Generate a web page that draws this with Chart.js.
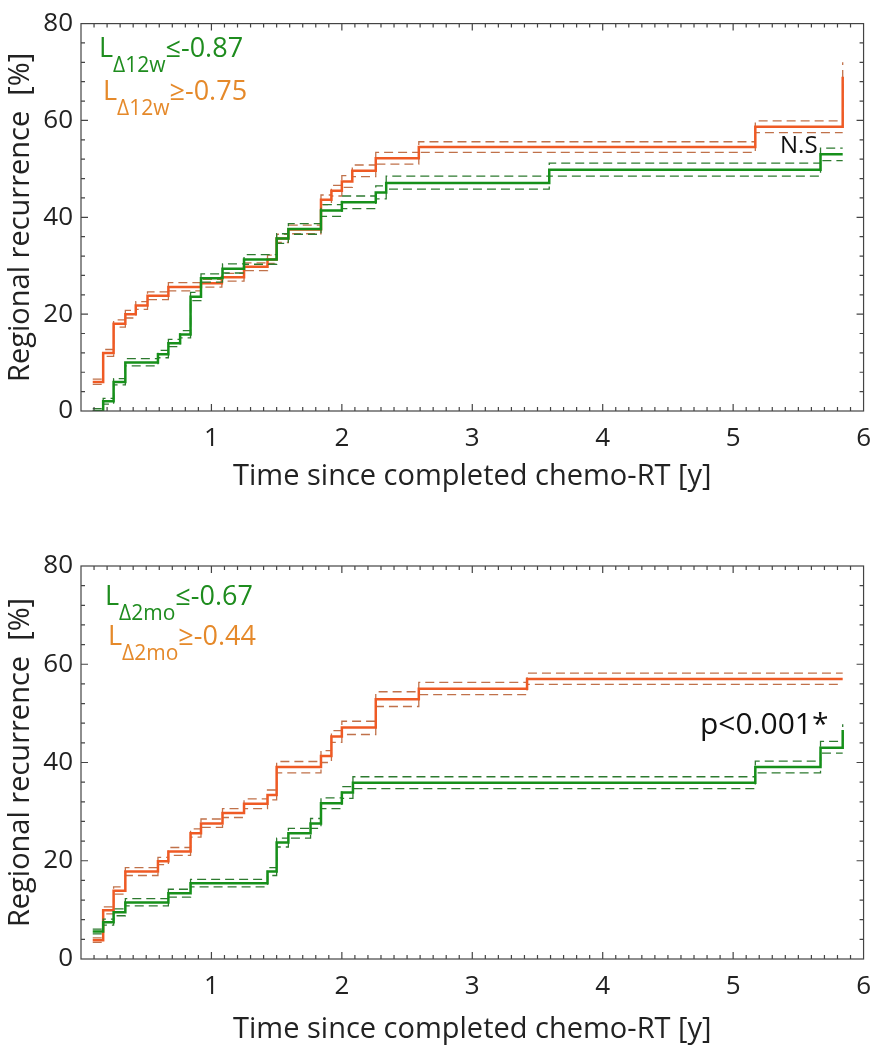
<!DOCTYPE html>
<html>
<head>
<meta charset="utf-8">
<script src="https://cdn.jsdelivr.net/npm/chart.js@4"></script>
<style>
  body { margin: 0; background: #fff; }
  .wrap { position: absolute; left: 0; width: 883px; }
  #w1 { top: 0; height: 520px; }
  #w2 { top: 520px; height: 530px; }
</style>
</head>
<body>
<div class="wrap" id="w1"><canvas id="c1" width="883" height="520"></canvas></div>
<div class="wrap" id="w2"><canvas id="c2" width="883" height="530"></canvas></div>
<script>
// tick labels
var xTickVals = [1, 2, 3, 4, 5, 6];
var yTickVals = [0, 20, 40, 60, 80];

// TOP: L delta 12w, orange group (>= -0.75)
var w12OrangeT  = [0.09, 0.17, 0.25, 0.34, 0.42, 0.51, 0.67, 0.92, 1.08, 1.25, 1.43, 1.50, 1.59, 1.84, 1.92, 2.00, 2.08, 2.26, 2.59, 5.17, 5.84];
var w12OrangeV  = [6, 12, 18, 20, 21.8, 23.8, 25.6, 26.4, 27.6, 29.8, 31.3, 35.6, 37.5, 43.6, 45.5, 47.4, 49.6, 52.2, 54.5, 58.7, 69];
var w12OrangeUp = [6.6, 12.7, 18.8, 20.8, 22.6, 24.6, 26.5, 27.2, 28.4, 30.6, 32.2, 36.5, 38.4, 44.6, 46.6, 48.6, 50.8, 53.4, 55.6, 59.9, 72];
var w12OrangeLo = [5.5, 11.3, 17.3, 19.2, 21.0, 23.0, 24.8, 25.6, 26.8, 29.0, 30.5, 34.8, 36.6, 42.6, 44.4, 46.2, 48.4, 51.0, 53.4, 57.5, 57.5];

// TOP: green group (<= -0.87)
var w12GreenT  = [0.09, 0.17, 0.25, 0.34, 0.59, 0.67, 0.76, 0.84, 0.92, 1.085, 1.25, 1.50, 1.59, 1.84, 2.00, 2.26, 2.34, 3.59, 5.67, 5.84];
var w12GreenV  = [0, 2, 6, 10, 11.7, 14.0, 15.8, 23.6, 27.4, 29.4, 31.3, 35.6, 37.6, 41.4, 43.1, 45.1, 47.1, 49.8, 53.0, 53.0];
var w12GreenUp = [0.5, 2.6, 6.7, 10.8, 12.5, 14.8, 16.6, 24.5, 28.3, 30.4, 32.3, 36.6, 38.7, 42.6, 44.4, 46.5, 48.5, 51.2, 54.3, 54.3];
var w12GreenLo = [0, 1.4, 5.4, 9.3, 11.0, 13.3, 15.1, 22.8, 26.6, 28.5, 30.3, 34.6, 36.5, 40.2, 41.8, 43.8, 45.8, 48.5, 51.7, 51.7];

// BOTTOM: L delta 2mo, orange group (>= -0.44)
var mo2OrangeT  = [0.09, 0.17, 0.25, 0.34, 0.59, 0.67, 0.84, 0.92, 1.085, 1.25, 1.43, 1.50, 1.84, 1.92, 2.00, 2.26, 2.59, 3.42, 5.84];
var mo2OrangeV  = [3.8, 9.9, 13.9, 17.8, 19.9, 21.9, 25.6, 27.6, 29.7, 31.6, 33.4, 39.1, 41.3, 45.3, 47.1, 52.9, 55.0, 57.0, 57.0];
var mo2OrangeUp = [4.3, 10.6, 14.7, 18.6, 20.7, 22.7, 26.5, 28.5, 30.6, 32.6, 34.4, 40.2, 42.4, 46.5, 48.4, 54.4, 56.3, 58.2, 58.2];
var mo2OrangeLo = [3.4, 9.2, 13.2, 17.0, 19.2, 21.1, 24.8, 26.8, 28.8, 30.6, 32.4, 37.9, 40.0, 44.1, 45.7, 51.4, 53.8, 55.9, 55.9];

// BOTTOM: green group (<= -0.67)
var mo2GreenT  = [0.09, 0.17, 0.25, 0.34, 0.67, 0.84, 1.43, 1.50, 1.59, 1.76, 1.84, 2.00, 2.085, 5.17, 5.67, 5.84];
var mo2GreenV  = [5.6, 7.5, 9.5, 11.5, 13.4, 15.4, 17.8, 23.7, 25.6, 27.6, 31.7, 33.9, 35.9, 39.1, 43.0, 46.6];
var mo2GreenUp = [6.1, 8.1, 10.2, 12.3, 14.2, 16.2, 18.6, 24.6, 26.6, 28.6, 32.8, 35.1, 37.1, 40.3, 44.3, 47.8];
var mo2GreenLo = [5.1, 6.9, 8.8, 10.8, 12.6, 14.7, 17.0, 22.8, 24.6, 26.6, 30.6, 32.7, 34.7, 37.9, 41.9, 41.9];

var FONT = "'Open Sans', sans-serif";
var ORANGE = '#ef5a24', ORANGE_DASH = '#c0714a', ORANGE_TXT = '#e5892a';
var GREEN = '#16901a', GREEN_DASH = '#2d7a2f', GREEN_TXT = '#1e8c1e';

function pts(t, v) {
  return t.map(function(x, i) { return {x: x, y: v[i]}; });
}

function solid(t, v, color, order) {
  return { data: pts(t, v), borderColor: color, borderWidth: 2.5, stepped: true,
           pointRadius: 0, fill: false, order: order };
}
function dashed(t, v, color, order) {
  return { data: pts(t, v), borderColor: color, borderWidth: 1.3, borderDash: [9, 5],
           stepped: true, pointRadius: 0, fill: false, order: order };
}

// box + inward minor ticks on all four sides
var frameTicks = {
  id: 'frameTicks',
  afterDatasetsDraw: function(chart) {
    var ctx = chart.ctx, a = chart.chartArea, x = chart.scales.x, y = chart.scales.y;
    ctx.save();
    ctx.strokeStyle = '#444';
    ctx.lineWidth = 1.2;
    ctx.strokeRect(a.left, a.top, a.right - a.left, a.bottom - a.top);
    ctx.beginPath();
    for (var i = 1; i < 60; i++) {
      var px = x.getPixelForValue(i / 10);
      var len = i % 10 === 0 ? 7 : 4;
      ctx.moveTo(px, a.bottom); ctx.lineTo(px, a.bottom - len);
      ctx.moveTo(px, a.top); ctx.lineTo(px, a.top + len);
    }
    for (var j = 1; j < 20; j++) {
      var py = y.getPixelForValue(j * 4);
      var l2 = (j * 4) % 20 === 0 ? 7 : 4;
      ctx.moveTo(a.left, py); ctx.lineTo(a.left + l2, py);
      ctx.moveTo(a.right, py); ctx.lineTo(a.right - l2, py);
    }
    ctx.stroke();
    ctx.restore();
  }
};

// group labels with subscript + annotation
var kmText = {
  id: 'kmText',
  afterDraw: function(chart, args, opts) {
    var ctx = chart.ctx;
    ctx.save();
    ctx.textBaseline = 'alphabetic';
    (opts.labels || []).forEach(function(lb) {
      var xx = lb.x;
      ctx.fillStyle = lb.color;
      ctx.font = '27px ' + FONT;
      ctx.fillText('L', xx, lb.y);
      xx += ctx.measureText('L').width;
      ctx.font = '21px ' + FONT;
      ctx.fillText(lb.sub, xx, lb.y + 15);
      xx += ctx.measureText(lb.sub).width;
      ctx.font = '27px ' + FONT;
      ctx.fillText(lb.rest, xx, lb.y);
    });
    if (opts.note) {
      ctx.fillStyle = '#111';
      ctx.font = opts.note.size + 'px ' + FONT;
      ctx.fillText(opts.note.text, opts.note.x, opts.note.y);
    }
    ctx.restore();
  }
};

function makeChart(id, sets, cfg) {
  return new Chart(document.getElementById(id), {
    type: 'line',
    data: { datasets: sets },
    plugins: [frameTicks, kmText],
    options: {
      responsive: false,
      animation: false,
      layout: { padding: { top: cfg.top, right: 7, left: 0, bottom: 0 } },
      plugins: { legend: { display: false }, tooltip: { enabled: false }, kmText: cfg.text },
      scales: {
        x: {
          type: 'linear', min: 0, max: 6,
          afterBuildTicks: function(s) { s.ticks = xTickVals.map(function(v) { return {value: v}; }); },
          afterFit: function(s) { s.height = cfg.xh; },
          grid: { display: false, drawTicks: false },
          border: { display: false },
          ticks: { font: { family: FONT, size: 26 }, color: '#222', padding: 12, maxRotation: 0 },
          title: { display: true, text: 'Time since completed chemo-RT [y]',
                   font: { family: FONT, size: 29 }, color: '#222', padding: { bottom: cfg.xtPad } }
        },
        y: {
          min: 0, max: 80,
          afterBuildTicks: function(s) { s.ticks = yTickVals.map(function(v) { return {value: v}; }); },
          afterFit: function(s) { s.width = 81; },
          grid: { display: false, drawTicks: false },
          border: { display: false },
          ticks: { font: { family: FONT, size: 26 }, color: '#222', padding: 8 },
          title: { display: true, text: 'Regional recurrence  [%]',
                   font: { family: FONT, size: 29 }, color: '#222', padding: { top: 3 } }
        }
      }
    }
  });
}

makeChart('c1', [
  solid(w12GreenT, w12GreenV, GREEN, 0),
  dashed(w12GreenT, w12GreenUp, GREEN_DASH, 1),
  dashed(w12GreenT, w12GreenLo, GREEN_DASH, 1),
  solid(w12OrangeT, w12OrangeV, ORANGE, 2),
  dashed(w12OrangeT, w12OrangeUp, ORANGE_DASH, 3),
  dashed(w12OrangeT, w12OrangeLo, ORANGE_DASH, 3)
], {
  top: 17, xh: 109, xtPad: 26,
  text: {
    labels: [
      { x: 99, y: 57, sub: '\u039412w', rest: '\u2264-0.87', color: GREEN_TXT },
      { x: 103, y: 100, sub: '\u039412w', rest: '\u2265-0.75', color: ORANGE_TXT }
    ],
    note: { text: 'N.S', x: 780, y: 153, size: 24 }
  }
});

makeChart('c2', [
  solid(mo2GreenT, mo2GreenV, GREEN, 0),
  dashed(mo2GreenT, mo2GreenUp, GREEN_DASH, 1),
  dashed(mo2GreenT, mo2GreenLo, GREEN_DASH, 1),
  solid(mo2OrangeT, mo2OrangeV, ORANGE, 2),
  dashed(mo2OrangeT, mo2OrangeUp, ORANGE_DASH, 3),
  dashed(mo2OrangeT, mo2OrangeLo, ORANGE_DASH, 3)
], {
  top: 46, xh: 91, xtPad: 3,
  text: {
    labels: [
      { x: 105, y: 85, sub: '\u03942mo', rest: '\u2264-0.67', color: GREEN_TXT },
      { x: 108, y: 125, sub: '\u03942mo', rest: '\u2265-0.44', color: ORANGE_TXT }
    ],
    note: { text: 'p<0.001*', x: 700, y: 214, size: 30 }
  }
});
</script>
</body>
</html>
